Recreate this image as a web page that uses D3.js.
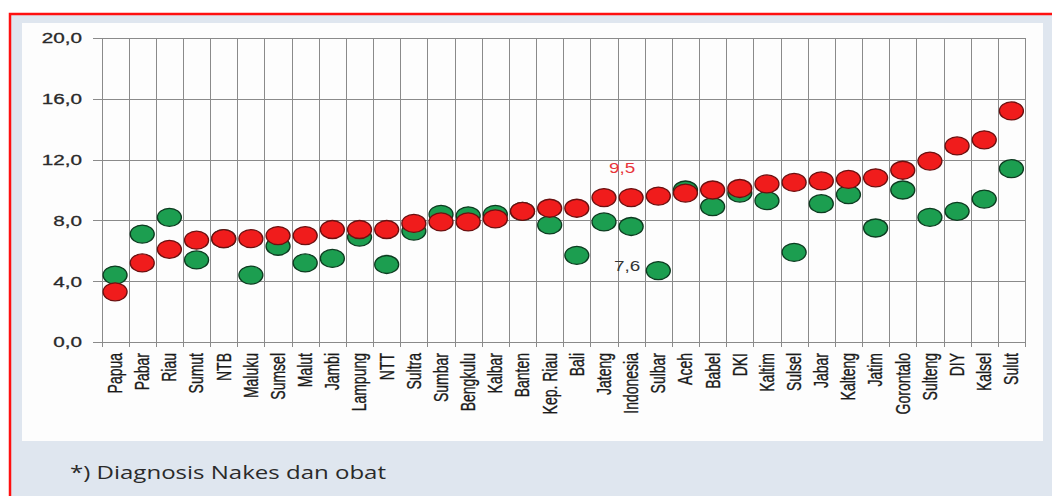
<!DOCTYPE html>
<html>
<head>
<meta charset="utf-8">
<script src="https://cdn.jsdelivr.net/npm/d3@7"></script>
<style>
  html, body { margin: 0; padding: 0; background: #fff; }
  svg { display: block; }
</style>
</head>
<body>
<svg id="chart" width="1052" height="496"></svg>
<script>
// provinces, sorted as in the source figure
const categories = ["Papua", "Pabar", "Riau", "Sumut", "NTB", "Maluku", "Sumsel", "Malut", "Jambi",
  "Lampung", "NTT", "Sultra", "Sumbar", "Bengkulu", "Kalbar", "Banten", "Kep. Riau", "Bali",
  "Jateng", "Indonesia", "Sulbar", "Aceh", "Babel", "DKI", "Kaltim", "Sulsel", "Jabar", "Kalteng",
  "Jatim", "Gorontalo", "Sulteng", "DIY", "Kalsel", "Sulut"];

// red dots
const redValues = [3.3, 5.2, 6.1, 6.7, 6.8, 6.8, 7.0, 7.0, 7.4, 7.4, 7.4, 7.8, 7.9, 7.9, 8.1, 8.6,
  8.8, 8.8, 9.5, 9.5, 9.6, 9.8, 10.0, 10.1, 10.4, 10.5, 10.6, 10.7, 10.8, 11.3, 11.9, 12.9, 13.3, 15.2];

// green dots
const greenValues = [4.4, 7.1, 8.2, 5.4, 6.8, 4.4, 6.3, 5.2, 5.5, 6.9, 5.1, 7.3, 8.4, 8.3, 8.4, 8.6,
  7.7, 5.7, 7.9, 7.6, 4.7, 10.0, 8.9, 9.8, 9.3, 5.9, 9.1, 9.7, 7.5, 10.0, 8.2, 8.6, 9.4, 11.4];

const yTicks = [0, 4, 8, 12, 16, 20];
const tickLabel = d => d.toFixed(1).replace(".", ",");

// value labels shown for Indonesia
const callouts = [
  { cat: "Indonesia", value: 9.5, color: "#e8343a", dx: -9, dy: -30 },
  { cat: "Indonesia", value: 7.6, color: "#333", dx: -4, dy: 40 }
];

const footnote = "*) Diagnosis Nakes dan obat";

const svg = d3.select("#chart");

// frame + panels
svg.append("rect").attr("x", 10).attr("y", 14).attr("width", 1060).attr("height", 500)
  .attr("fill", "#dfe6ef").attr("stroke", "#ff1010").attr("stroke-width", 2.5);
svg.append("rect").attr("x", 22).attr("y", 23).attr("width", 1021).attr("height", 418)
  .attr("fill", "#fdfdfd");

const x = d3.scaleBand().domain(categories).range([101.5, 1025]).padding(0);
const y = d3.scaleLinear().domain([0, 20]).range([342, 38]);

const grid = svg.append("g").attr("stroke", "#8a8a8a").attr("stroke-width", 1);

// horizontal gridlines + left ticks
grid.selectAll("line.h").data(yTicks).join("line")
  .attr("x1", 93).attr("x2", 1025)
  .attr("y1", d => Math.round(y(d)) + 0.5).attr("y2", d => Math.round(y(d)) + 0.5);

// vertical gridlines at category boundaries (+ bottom ticks)
const bounds = categories.map(c => x(c)).concat([x.range()[1]]);
grid.selectAll("line.v").data(bounds).join("line")
  .attr("x1", d => Math.round(d) + 0.5).attr("x2", d => Math.round(d) + 0.5)
  .attr("y1", y(20)).attr("y2", y(0) + 5);

// y tick labels (figure is stretched horizontally)
svg.append("g").selectAll("text").data(yTicks).join("text")
  .attr("transform", d => `translate(82,${y(d)}) scale(1.38,1)`)
  .attr("text-anchor", "end").attr("dy", "0.36em")
  .attr("font-family", "Liberation Sans, Arial, sans-serif").attr("font-size", 15)
  .attr("fill", "#2a2a2a").attr("stroke", "#2a2a2a").attr("stroke-width", 0.3)
  .text(tickLabel);

// category labels
svg.append("g").selectAll("text").data(categories).join("text")
  .attr("transform", d => `translate(${x(d) + x.bandwidth() / 2},353) rotate(-90) scale(1,1.4)`)
  .attr("text-anchor", "end").attr("dy", "0.35em")
  .attr("font-family", "Liberation Sans, Arial, sans-serif").attr("font-size", 14)
  .attr("fill", "#1a1a1a").attr("stroke", "#1a1a1a").attr("stroke-width", 0.25)
  .text(d => d);

// dots
const rx = 12, ry = 9;
function dots(values, fill, stroke) {
  svg.append("g").selectAll("ellipse").data(values).join("ellipse")
    .attr("cx", (d, i) => x(categories[i]) + x.bandwidth() / 2)
    .attr("cy", d => y(d))
    .attr("rx", rx).attr("ry", ry)
    .attr("fill", fill).attr("stroke", stroke).attr("stroke-width", 1.3);
}
dots(greenValues, "#1c9e50", "#0d3b20");
dots(redValues, "#f01c1c", "#6a1010");

// callout values
svg.append("g").selectAll("text").data(callouts).join("text")
  .attr("transform", d => `translate(${x(d.cat) + x.bandwidth() / 2 + d.dx},${y(d.value) + d.dy}) scale(1.35,1)`)
  .attr("text-anchor", "middle").attr("dy", "0.35em")
  .attr("font-family", "Liberation Sans, Arial, sans-serif").attr("font-size", 14)
  .attr("fill", d => d.color).text(d => tickLabel(d.value));

// footnote
svg.append("text").attr("x", 70).attr("y", 479)
  .attr("font-family", "Open Sans, sans-serif").attr("font-size", 17.5)
  .attr("textLength", 316).attr("lengthAdjust", "spacingAndGlyphs")
  .attr("fill", "#2a2a2a").text(footnote);
</script>
</body>
</html>
